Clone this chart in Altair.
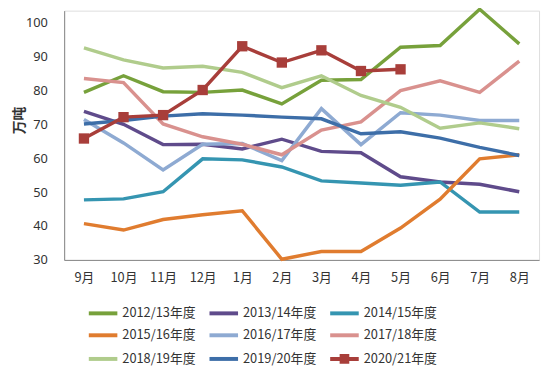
import altair as alt
import pandas as pd

months = ["9月", "10月", "11月", "12月", "1月", "2月", "3月", "4月", "5月", "6月", "7月", "8月"]

series_names = ["2012/13年度", "2013/14年度", "2014/15年度",
                "2015/16年度", "2016/17年度", "2017/18年度",
                "2018/19年度", "2019/20年度", "2020/21年度"]

s2012 = [79.4, 84.3, 79.6, 79.4, 80.1, 76.0, 83.0, 83.2, 92.7, 93.2, 103.9, 93.7]
s2013 = [73.8, 70.0, 64.0, 64.1, 62.7, 65.6, 62.0, 61.6, 54.5, 53.0, 52.3, 50.1]
s2014 = [47.7, 48.0, 50.1, 59.8, 59.5, 57.4, 53.3, 52.7, 52.0, 53.0, 44.1, 44.1]
s2015 = [40.7, 38.8, 41.9, 43.3, 44.5, 30.2, 32.5, 32.5, 39.4, 47.9, 59.8, 61.0]
s2016 = [71.4, 64.5, 56.5, 64.1, 64.3, 59.3, 74.6, 64.0, 73.4, 72.7, 71.1, 71.1]
s2017 = [83.5, 82.3, 70.1, 66.3, 64.1, 61.0, 68.3, 70.7, 79.9, 82.8, 79.4, 88.6]
s2018 = [92.5, 89.0, 86.6, 87.1, 85.3, 80.8, 84.3, 78.5, 75.0, 68.8, 70.4, 68.7]
s2019 = [70.1, 71.1, 72.4, 73.1, 72.7, 72.1, 71.6, 67.2, 67.8, 65.9, 63.2, 60.8]
s2020 = [65.8, 72.1, 72.7, 80.1, 93.0, 88.2, 91.8, 85.7, 86.2]

y_ticks = [30, 40, 50, 60, 70, 80, 90, 100]

colors = ["#77a13b", "#5f4b8b", "#3595b1", "#e07c2f", "#8eaad2",
          "#d9918e", "#b0cc8c", "#3d6ea8", "#a83e3a"]

all_series = [s2012, s2013, s2014, s2015, s2016, s2017, s2018, s2019, s2020]

rows = []
for name, vals in zip(series_names, all_series):
    for m, v in zip(months, vals):
        rows.append({"series": name, "month": m, "value": v})
df = pd.DataFrame(rows)

FONT = "Noto Sans CJK SC"
NUMFONT = "Noto Sans"

x_enc = alt.X(
    "month:N", sort=months,
    scale=alt.Scale(type="point", padding=0.5),
    axis=alt.Axis(title=None, labelAngle=0, ticks=False, grid=False,
                  domainColor="#868686", domainWidth=1, labelOverlap=False,
                  labelPadding=12, labelFontSize=13, labelColor="#333333",
                  labelFont=FONT),
)
y_enc = alt.Y(
    "value:Q",
    scale=alt.Scale(domain=[30, 103.5], nice=False, zero=False),
    axis=alt.Axis(values=y_ticks, title="万吨", tickCount=8,
                  grid=False, ticks=False, domainColor="#868686", domainWidth=1,
                  labelOverlap=False, labelSeparation=0, labelBound=False,
                  labelFlush=False,
                  labelPadding=17, labelFontSize=13, labelColor="#333333",
                  labelFont=NUMFONT, titleFont=FONT, titleFontSize=14,
                  titleFontWeight="bold", titleColor="#333333",
                  titleX=-45, titleY=111, titleAngle=-90,
                  titleAlign="center", titleBaseline="middle"),
)

line_sym = "M-2,0H2"
marker_sym = "M-2,0H2M-0.4,-0.4H0.4V0.4H-0.4Z"

color_enc = alt.Color(
    "series:N",
    scale=alt.Scale(domain=series_names, range=colors),
    legend=alt.Legend(
        title=None, orient="none", legendX=30, legendY=296, columns=3,
        direction="horizontal",
        padding=0, columnPadding=5.5, rowPadding=1,
        symbolType=alt.ExprRef(
            expr=f"datum.value == '2020/21年度' ? '{marker_sym}' : '{line_sym}'"),
        symbolFillColor=alt.ExprRef(
            expr="datum.value == '2020/21年度' ? '#a83e3a' : 'transparent'"),
        symbolSize=210, symbolStrokeWidth=4, symbolOpacity=1,
        labelFontSize=13, labelFont=FONT, labelColor="#333333", labelOffset=10,
        gridAlign="all",
    ),
)

base = alt.Chart(df).encode(x=x_enc, y=y_enc)

lines = base.mark_line(strokeWidth=3.5).encode(color=color_enc)

pts = base.transform_filter(
    alt.datum.series == "2020/21年度"
).mark_square(size=110, opacity=1, filled=True).encode(
    color=alt.Color("series:N", scale=alt.Scale(domain=series_names, range=colors),
                    legend=None),
)

chart = alt.layer(lines, pts).properties(
    width=482, height=253,
    autosize=alt.AutoSizeParams(type="none"),
    padding={"left": 57, "top": 0, "right": 3, "bottom": 106},
).configure_view(stroke=None).configure(background="white").configure_axis(
    labelOverlap=False
)

chart.save("out.html", embed_options={"renderer": "svg", "actions": False})
